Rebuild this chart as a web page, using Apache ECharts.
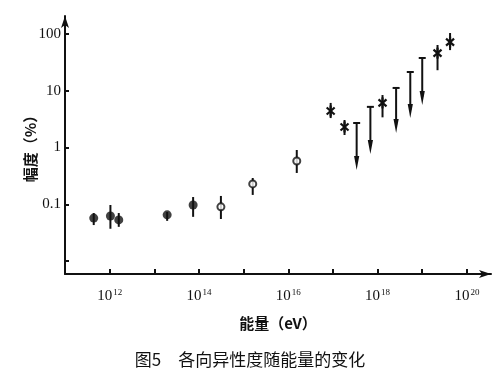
<!DOCTYPE html>
<html>
<head>
<meta charset="utf-8">
<script src="https://cdn.jsdelivr.net/npm/echarts@6/dist/echarts.min.js"></script>
<style>html,body{margin:0;padding:0;background:#fff}#c{width:500px;height:384px}</style>
</head>
<body>
<div id="c"></div>
<script>
// Energy in eV, amplitude in %
const filledE  = [4.4e11, 1.04e12, 1.6e12, 1.94e13, 7.4e13];
const filledA  = [0.057, 0.062, 0.053, 0.065, 0.097];
const filledLo = [0.043, 0.037, 0.040, 0.051, 0.060];
const filledHi = [0.070, 0.097, 0.070, 0.073, 0.134];

const openE  = [3.1e14, 1.6e15, 1.55e16];
const openA  = [0.090, 0.228, 0.578];
const openLo = [0.055, 0.146, 0.356];
const openHi = [0.140, 0.290, 0.904];

const starE  = [8.9e16, 1.82e17, 1.29e18, 2.2e19, 4.2e19];
const starA  = [4.4, 2.3, 6.1, 46, 72];
const starLo = [3.3, 1.66, 3.4, 23, 52];
const starHi = [6.1, 3.05, 8.4, 64, 104];

const limitE   = [3.4e17, 6.9e17, 2.6e18, 5.4e18, 1.0e19];
const limitTop = [2.7, 5.2, 11.2, 21.4, 37.8];
const limitTip = [0.40, 0.77, 1.8, 3.3, 5.6];

const xTickExp   = [12, 13, 14, 15, 16, 17, 18, 19, 20];
const xLabelExp  = [12, 14, 16, 18, 20];
const yTickExp   = [-2, -1, 0, 1, 2];
const yLabelExp  = [-1, 0, 1, 2];
const yLabels    = ['0.1', '1', '10', '100'];

const L = Math.log10;
const pts = (E, A) => E.map((e, i) => [L(e), L(A[i])]);
const bars = (E, lo, hi) => E.map((e, i) => [L(e), L(lo[i]), L(hi[i])]);

const errBars = bars(filledE, filledLo, filledHi)
  .concat(bars(openE, openLo, openHi))
  .concat(bars(starE, starLo, starHi));
const limits = bars(limitE, limitTip, limitTop);

const INK = '#111';

const chart = echarts.init(document.getElementById('c'), null, {renderer: 'canvas'});
chart.setOption({
  animation: false,
  backgroundColor: '#fff',
  grid: {left: 65, right: 9, top: 16, bottom: 110},
  graphic: [{
    type: 'text', left: 'center', top: 351,
    style: {text: '图5　各向异性度随能量的变化', font: '17px "Noto Sans CJK SC"', fill: INK, x: 11}
  }],
  xAxis: {
    type: 'value', min: 11, max: 20.54,
    name: '能量（eV）', nameLocation: 'middle', nameGap: 42,
    nameTextStyle: {fontFamily: 'Noto Sans CJK SC', fontSize: 15, fontWeight: 'bold', color: INK},
    axisLine: {onZero: false, lineStyle: {color: INK, width: 2}, symbol: ['none', 'arrow'], symbolSize: [6, 12]},
    axisTick: {inside: true, length: 5, lineStyle: {color: INK, width: 2}, customValues: xTickExp},
    splitLine: {show: false},
    axisLabel: {
      customValues: xLabelExp, margin: 14, color: INK,
      fontFamily: 'Liberation Serif', fontSize: 15, lineHeight: 16,
      formatter: v => '10{s|' + v + '}',
      rich: {s: {fontFamily: 'Liberation Serif', fontSize: 9, color: INK, verticalAlign: 'top', lineHeight: 16, padding: [0, 0, 6, 1]}}
    }
  },
  yAxis: {
    type: 'value', min: -2.229, max: 2.317,
    name: '幅度（%）', nameLocation: 'middle', nameGap: 27, nameMoveOverlap: false,
    nameTextStyle: {fontFamily: 'Noto Sans CJK SC', fontSize: 15, fontWeight: 'bold', color: INK},
    axisLine: {onZero: false, lineStyle: {color: INK, width: 2}, symbol: ['none', 'arrow'], symbolSize: [6, 12]},
    axisTick: {inside: true, length: 4, lineStyle: {color: INK, width: 2}, customValues: yTickExp},
    splitLine: {show: false},
    axisLabel: {
      customValues: yLabelExp, margin: 4, color: INK,
      fontFamily: 'Liberation Serif', fontSize: 15,
      formatter: v => yLabels[yLabelExp.indexOf(Math.round(v))]
    }
  },
  series: [
    {
      type: 'custom', data: errBars, z: 2,
      encode: {x: 0, y: [1, 2]},
      renderItem: (params, api) => {
        const a = api.coord([api.value(0), api.value(1)]);
        const b = api.coord([api.value(0), api.value(2)]);
        return {type: 'line', shape: {x1: a[0], y1: a[1], x2: b[0], y2: b[1]},
                style: {stroke: INK, lineWidth: 2}};
      }
    },
    {
      type: 'custom', data: limits, z: 2,
      encode: {x: 0, y: [1, 2]},
      renderItem: (params, api) => {
        const tip = api.coord([api.value(0), api.value(1)]);
        const top = api.coord([api.value(0), api.value(2)]);
        const x = top[0];
        return {type: 'group', children: [
          {type: 'line', shape: {x1: x, y1: top[1], x2: x, y2: tip[1] - 8}, style: {stroke: INK, lineWidth: 2}},
          {type: 'line', shape: {x1: x - 3.5, y1: top[1], x2: x + 3.5, y2: top[1]}, style: {stroke: INK, lineWidth: 2}},
          {type: 'polygon', shape: {points: [[x, tip[1]], [x - 2.6, tip[1] - 14], [x + 2.6, tip[1] - 14]]}, style: {fill: INK}}
        ]};
      }
    },
    {
      type: 'scatter', data: pts(filledE, filledA), z: 3,
      symbol: 'circle', symbolSize: 9, itemStyle: {color: INK}
    },
    {
      type: 'scatter', data: pts(openE, openA), z: 3,
      symbol: 'circle', symbolSize: 7, itemStyle: {color: '#fff', borderColor: INK, borderWidth: 2}
    },
    {
      type: 'custom', data: pts(starE, starA), z: 3,
      encode: {x: 0, y: 1},
      renderItem: (params, api) => {
        const c = api.coord([api.value(0), api.value(1)]);
        const s = {stroke: INK, lineWidth: 2.2};
        return {type: 'group', children: [
          {type: 'line', shape: {x1: c[0], y1: c[1] - 5.5, x2: c[0], y2: c[1] + 5.5}, style: s},
          {type: 'line', shape: {x1: c[0] - 4, y1: c[1] - 3.5, x2: c[0] + 4, y2: c[1] + 3.5}, style: s},
          {type: 'line', shape: {x1: c[0] + 4, y1: c[1] - 3.5, x2: c[0] - 4, y2: c[1] + 3.5}, style: s}
        ]};
      }
    }
  ]
});
</script>
</body>
</html>
